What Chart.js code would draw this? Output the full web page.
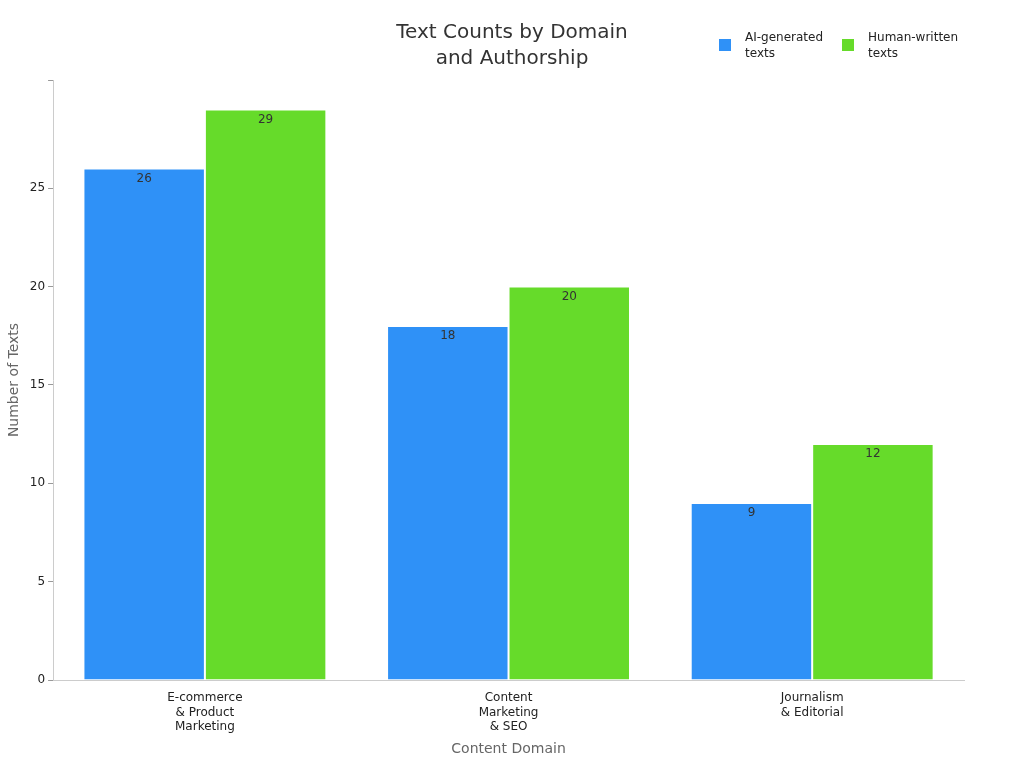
<!DOCTYPE html>
<html><head><meta charset="utf-8">
<script src="https://cdn.jsdelivr.net/npm/chart.js@4/dist/chart.umd.min.js"></script>
<style>html,body{margin:0;background:#fff}#wrap{width:1024px;height:768px}</style>
</head><body><div id="wrap"><canvas id="c"></canvas></div>
<script>
// data
const domains = [['E-commerce', '& Product', 'Marketing'], ['Content', 'Marketing', '& SEO'], ['Journalism', '& Editorial']];
const aiTexts = [26, 18, 9];
const humanTexts = [29, 20, 12];
const seriesNames = [['AI-generated', 'texts'], ['Human-written', 'texts']];
const colors = ['#2f91f7', '#66db2a'];
const font = 'DejaVu Sans, sans-serif';

// value labels just inside the top of each bar
const barLabels = {
    id: 'barLabels',
    afterDatasetsDraw(chart) {
        const ctx = chart.ctx;
        ctx.save();
        ctx.font = '12px ' + font;
        ctx.fillStyle = '#333';
        ctx.textAlign = 'center';
        ctx.textBaseline = 'top';
        chart.data.datasets.forEach((ds, i) => {
            chart.getDatasetMeta(i).data.forEach((bar, j) => {
                ctx.fillText(ds.data[j], bar.x, bar.y + 4);
            });
        });
        ctx.restore();
    },
};

// title and two-line legend in the top band
const header = {
    id: 'header',
    afterDraw(chart) {
        const ctx = chart.ctx;
        ctx.save();
        ctx.fillStyle = '#333';
        ctx.textAlign = 'center';
        ctx.textBaseline = 'middle';
        ctx.font = '20px ' + font;
        ctx.fillText('Text Counts by Domain', 512, 33);
        ctx.fillText('and Authorship', 512, 59);
        ctx.font = '12px ' + font;
        ctx.textAlign = 'left';
        const xs = [719, 842];
        seriesNames.forEach((name, i) => {
            ctx.fillStyle = colors[i];
            ctx.fillRect(xs[i], 39, 12, 12);
            ctx.fillStyle = '#222';
            ctx.fillText(name[0], xs[i] + 26, 38);
            ctx.fillText(name[1], xs[i] + 26, 54);
        });
        ctx.restore();
    },
};

new Chart(document.getElementById('c'), {
    type: 'bar',
    data: {
        labels: domains,
        datasets: [
            { label: 'AI-generated texts', data: aiTexts, backgroundColor: colors[0] },
            { label: 'Human-written texts', data: humanTexts, backgroundColor: colors[1] },
        ].map(d => ({ ...d, borderColor: '#fff', borderWidth: 1, categoryPercentage: 0.8, barPercentage: 1 })),
    },
    options: {
        animation: false,
        responsive: true,
        maintainAspectRatio: false,
        layout: { padding: { top: 80, right: 60, left: 2, bottom: 6 } },
        plugins: { legend: { display: false }, title: { display: false }, tooltip: { enabled: false } },
        scales: {
            x: {
                grid: { display: false },
                border: { color: '#ccc' },
                ticks: { color: '#222', font: { family: font, size: 12 }, maxRotation: 0 },
                title: { display: true, text: 'Content Domain', color: '#666', font: { family: font, size: 14 } },
            },
            y: {
                min: 0, max: 30.5,
                grid: { drawOnChartArea: false, tickLength: 5, color: '#999' },
                border: { color: '#ccc' },
                ticks: { stepSize: 5, color: '#222', font: { family: font, size: 12 }, callback: v => (v % 5 === 0 ? v : '') },
                title: { display: true, text: 'Number of Texts', color: '#666', font: { family: font, size: 14 } },
            },
        },
    },
    plugins: [barLabels, header],
});
</script>
</body></html>
